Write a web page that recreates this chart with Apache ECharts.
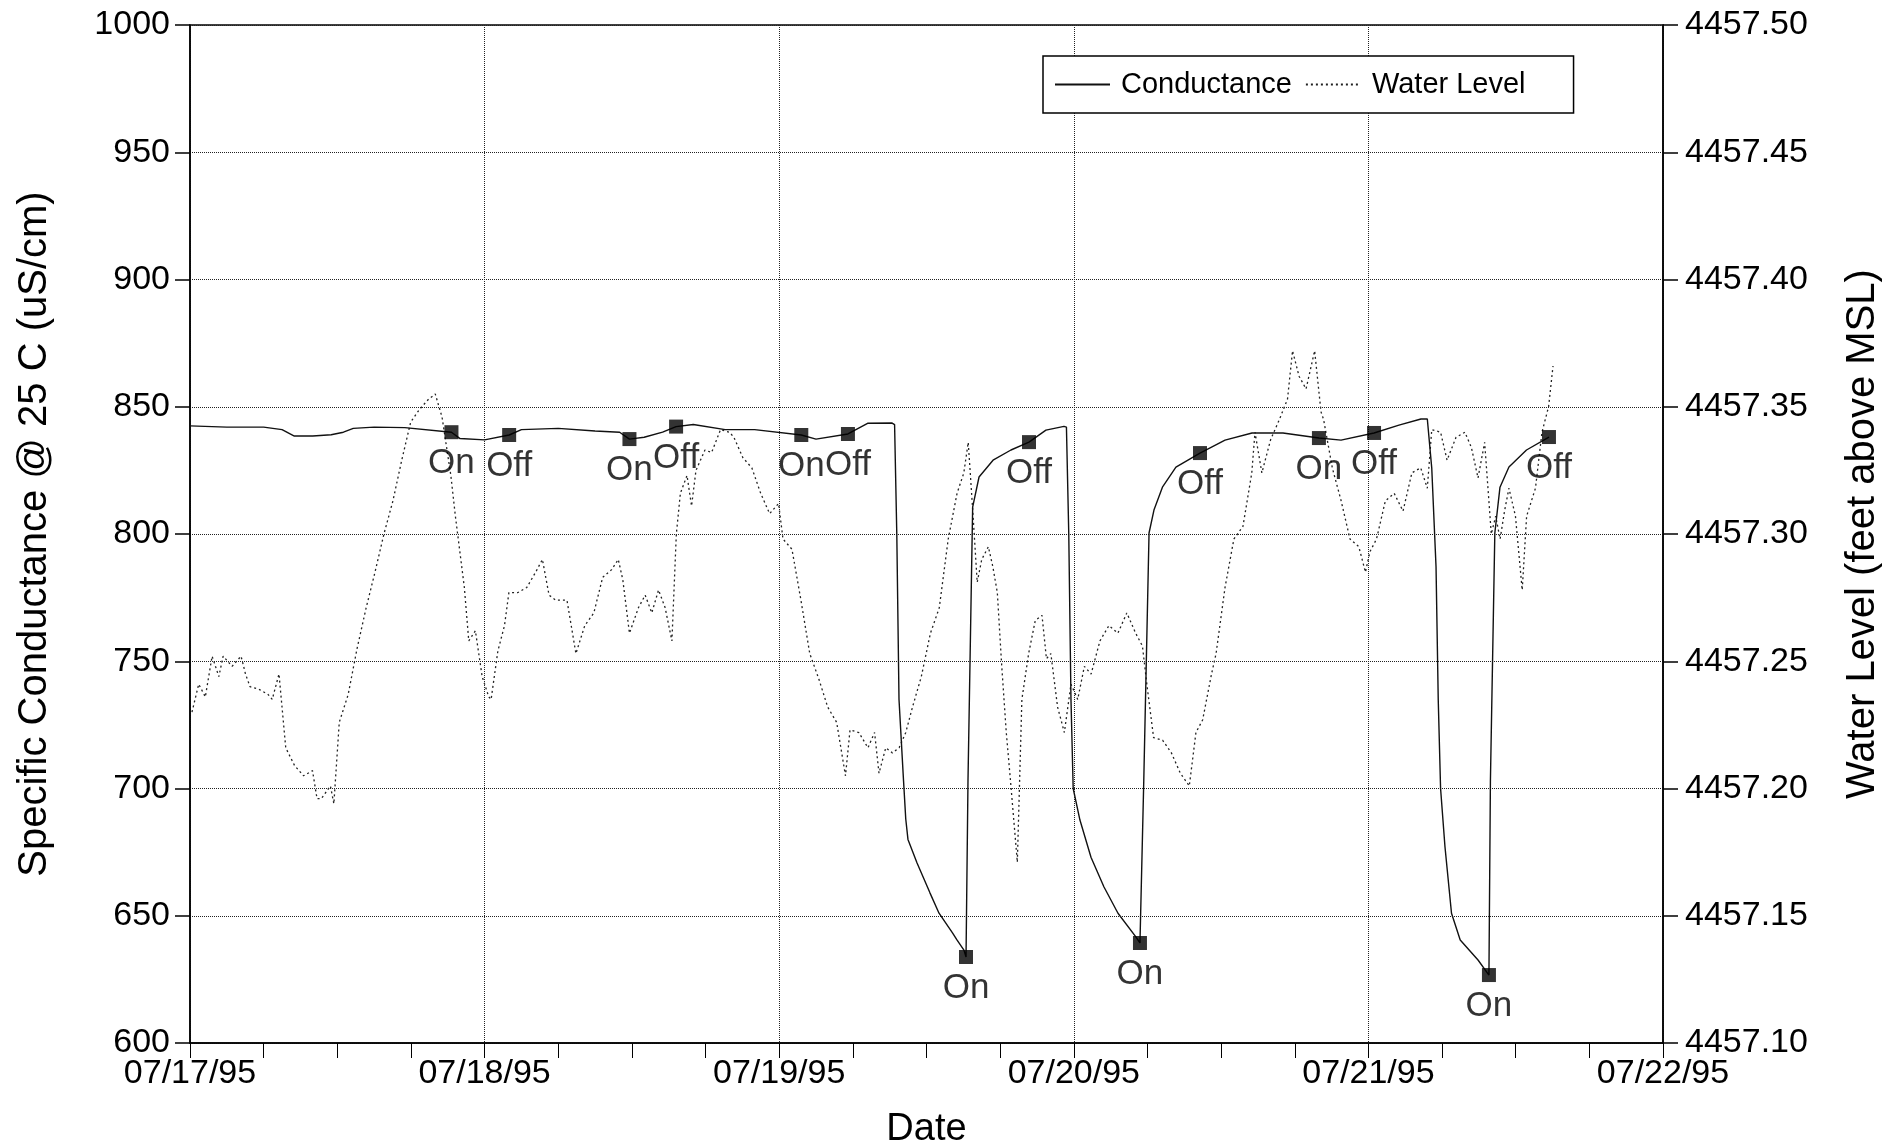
<!DOCTYPE html>
<html>
<head>
<meta charset="utf-8">
<title>Specific Conductance and Water Level</title>
<script src="https://cdn.jsdelivr.net/npm/echarts@6/dist/echarts.min.js"></script>
<style>
  html, body { margin: 0; padding: 0; background: #fff; }
  #main { width: 1889px; height: 1148px; }
</style>
</head>
<body>
<div id="main"></div>
<script>
// x values are hours after 07/17/95 00:00
var dateLabels = ['07/17/95', '07/18/95', '07/19/95', '07/20/95', '07/21/95', '07/22/95'];

var condHours = [0, 3, 6, 7.5, 8.5, 10, 11.5, 12.5, 13.3, 15, 17.5, 21.3, 22, 24, 26.0, 27, 30, 33, 35, 35.8,
  37, 38.5, 39.6, 41, 43.6, 46, 49.8, 51, 53.6, 55.2, 57.2, 57.4, 57.58, 57.76, 58.13, 58.31, 58.49, 59.23, 60.28, 61.02, 62.13, 62.48,
  63.05, 63.22, 63.38, 63.76, 64.28, 65.42, 66.88, 68.35, 69.73, 71.2, 71.4, 71.59, 71.77, 71.95, 72.5, 73.4, 74.46, 75.6, 77.07, 77.39,
  77.7, 78.13, 78.53, 79.22, 80.32, 82.28, 84.32, 86.52, 89.04, 91.97, 93.77, 96.46, 98.49, 100.28, 100.8, 101.16, 101.51, 101.69, 101.88, 102.24,
  102.77, 103.48, 104.93, 105.82, 105.94, 106.3, 106.72, 107.45, 108.88, 110.71];
var condValues = [842.5, 842, 842, 841, 838.5, 838.5, 839, 840, 841.5, 842, 841.8, 840, 837.5, 837, 838.9, 841, 841.5, 840.5, 840, 837.3,
  838, 840, 842.2, 843, 841, 841, 838.9, 837.3, 839.3, 843.5, 843.6, 843, 800, 735, 703, 688, 680, 670.7, 659, 651, 643.2, 640.5,
  636.5, 633.8, 703, 810.6, 822.4, 829, 833, 836.1, 840.8, 842.3, 842, 800, 735, 700, 687.6, 673, 661.3, 651, 641.6, 639.3,
  703, 800.4, 809.4, 818.4, 826.3, 831.8, 836.9, 839.7, 839.7, 837.7, 836.9, 839.7, 842.8, 845.2, 845.2, 826, 787, 734.8, 700, 677,
  651, 640.5, 632.6, 626.7, 703, 800.4, 818.4, 826.3, 833, 838.1];

var levelHours = [0.16, 0.71, 1.25, 1.80, 2.35, 2.70, 3.43, 4.16, 4.52, 4.89,
  5.61, 6.35, 6.70, 7.25, 7.80, 8.52, 9.25, 9.98, 10.35, 10.70,
  11.44, 11.72, 12.16, 12.89, 13.61, 14.35, 15.07, 15.80, 16.53, 17.25,
  17.98, 18.70, 19.44, 19.98, 20.53, 21.25, 21.62, 22.35, 22.71, 23.25,
  23.80, 24.34, 24.53, 25.08, 25.62, 25.98, 26.71, 27.44, 28.16, 28.71,
  29.25, 29.80, 30.71, 31.44, 32.16, 32.90, 33.62, 34.35, 34.89, 35.26,
  35.80, 36.53, 37.08, 37.62, 38.17, 38.71, 39.26, 39.62, 39.95, 40.49,
  40.86, 41.22, 41.95, 42.49, 43.22, 43.95, 44.31, 45.04, 45.77, 46.49,
  47.22, 47.95, 48.31, 49.04, 49.77, 50.49, 51.23, 51.95, 52.68, 53.40,
  53.77, 54.49, 55.23, 55.77, 56.13, 56.68, 57.22, 57.77, 58.31, 58.86,
  59.58, 60.32, 61.04, 61.77, 62.49, 63.04, 63.40, 63.77, 64.13, 64.50,
  65.04, 65.41, 65.77, 66.13, 66.50, 66.86, 67.40, 67.77, 68.32, 68.86,
  69.41, 69.77, 70.13, 70.68, 71.23, 71.77, 72.32, 72.86, 73.41, 74.13,
  74.86, 75.59, 76.32, 77.04, 77.59, 77.95, 78.50, 79.23, 79.95, 80.68,
  81.41, 81.95, 82.50, 83.22, 83.59, 84.32, 85.04, 85.78, 86.50, 86.76,
  87.32, 88.03, 88.75, 89.41, 89.82, 90.35, 90.92, 91.62, 92.14, 92.35,
  93.06, 93.78, 94.50, 95.22, 95.76, 96.12, 96.66, 97.38, 98.10, 98.82,
  99.54, 100.26, 100.80, 101.16, 101.88, 102.41, 103.14, 103.86, 104.39, 104.93,
  105.47, 106.01, 106.37, 106.73, 107.09, 107.45, 107.98, 108.53, 108.89, 109.61,
  110.14, 110.68, 111.04];
var levelValues = [4457.230, 4457.241, 4457.236, 4457.252, 4457.244, 4457.252, 4457.248, 4457.252, 4457.245, 4457.240,
  4457.239, 4457.237, 4457.235, 4457.245, 4457.216, 4457.209, 4457.205, 4457.207, 4457.196, 4457.196,
  4457.201, 4457.194, 4457.226, 4457.237, 4457.255, 4457.271, 4457.285, 4457.300, 4457.313, 4457.329,
  4457.344, 4457.349, 4457.353, 4457.355, 4457.346, 4457.323, 4457.307, 4457.279, 4457.258, 4457.262,
  4457.244, 4457.236, 4457.235, 4457.254, 4457.264, 4457.277, 4457.277, 4457.279, 4457.285, 4457.290,
  4457.276, 4457.274, 4457.274, 4457.253, 4457.264, 4457.269, 4457.283, 4457.286, 4457.290, 4457.282,
  4457.261, 4457.271, 4457.276, 4457.269, 4457.278, 4457.271, 4457.258, 4457.300, 4457.316, 4457.323,
  4457.311, 4457.325, 4457.333, 4457.332, 4457.341, 4457.340, 4457.338, 4457.330, 4457.326, 4457.316,
  4457.308, 4457.312, 4457.298, 4457.294, 4457.274, 4457.253, 4457.243, 4457.232, 4457.226, 4457.205,
  4457.223, 4457.222, 4457.216, 4457.222, 4457.206, 4457.216, 4457.214, 4457.216, 4457.222, 4457.232,
  4457.244, 4457.261, 4457.271, 4457.298, 4457.316, 4457.324, 4457.336, 4457.309, 4457.281, 4457.290,
  4457.295, 4457.287, 4457.277, 4457.248, 4457.222, 4457.202, 4457.171, 4457.235, 4457.253, 4457.266,
  4457.268, 4457.251, 4457.253, 4457.232, 4457.222, 4457.241, 4457.235, 4457.248, 4457.245, 4457.258,
  4457.264, 4457.261, 4457.269, 4457.261, 4457.256, 4457.241, 4457.220, 4457.219, 4457.214, 4457.206,
  4457.201, 4457.222, 4457.227, 4457.245, 4457.253, 4457.279, 4457.298, 4457.303, 4457.324, 4457.340,
  4457.324, 4457.337, 4457.345, 4457.353, 4457.372, 4457.362, 4457.357, 4457.372, 4457.348, 4457.345,
  4457.326, 4457.313, 4457.298, 4457.295, 4457.285, 4457.293, 4457.298, 4457.313, 4457.316, 4457.309,
  4457.324, 4457.326, 4457.318, 4457.341, 4457.340, 4457.329, 4457.338, 4457.340, 4457.334, 4457.322,
  4457.336, 4457.300, 4457.307, 4457.298, 4457.309, 4457.318, 4457.307, 4457.278, 4457.307, 4457.318,
  4457.340, 4457.350, 4457.366];

// pump switching points on the conductance curve
var pumpHours = [21.3, 26.0, 35.8, 39.6, 49.8, 53.6, 63.22, 68.35, 77.39, 82.28, 91.97, 96.46, 105.82, 110.71];
var pumpValues = [840, 838.9, 837.3, 842.2, 838.9, 839.3, 633.8, 836.1, 639.3, 831.8, 837.7, 839.7, 626.7, 838.1];
var pumpLabels = ['On', 'Off', 'On', 'Off', 'On', 'Off', 'On', 'Off', 'On', 'Off', 'On', 'Off', 'On', 'Off'];

function zip(xs, ys) {
  var out = [];
  for (var i = 0; i < xs.length; i++) out.push([xs[i], ys[i]]);
  return out;
}

var font = '"Liberation Sans", Arial, Helvetica, sans-serif';
var black = '#000';
var gridDots = { type: 'dotted', color: '#222', width: 1 };

var myChart = echarts.init(document.getElementById('main'));
var option = {
  animation: false,
  backgroundColor: '#fff',
  textStyle: { fontFamily: font, color: black },
  grid: {
    left: 190,
    right: 226,
    top: 25,
    bottom: 105,
    containLabel: false,
    outerBoundsMode: 'none',
    show: true,
    borderColor: black,
    borderWidth: 1.5
  },
  legend: {
    data: ['Conductance', 'Water Level'],
    left: 1043,
    top: 56,
    padding: [14, 48, 14, 11],
    itemWidth: 55,
    itemHeight: 14,
    itemGap: 13,
    borderColor: black,
    borderWidth: 1.5,
    backgroundColor: '#fff',
    // hide the symbol in the legend sample, keep the line
    itemStyle: { opacity: 0 },
    textStyle: { fontSize: 29, color: black, fontFamily: font, padding: [0, 0, 0, 6] }
  },
  xAxis: {
    type: 'value',
    min: 0,
    max: 120,
    interval: 24,
    name: 'Date',
    nameLocation: 'middle',
    nameGap: 68,
    nameTextStyle: { fontSize: 38, color: black, fontFamily: font },
    axisLine: { show: true, lineStyle: { color: black, width: 1.5 } },
    axisTick: { show: true, inside: false, length: 15, lineStyle: { color: black, width: 1 } },
    minorTick: { show: true, splitNumber: 4, length: 15, lineStyle: { color: black, width: 1 } },
    axisLabel: {
      fontSize: 34,
      color: black,
      margin: 14,
      formatter: function (v) { return dateLabels[Math.round(v / 24)]; }
    },
    splitLine: { show: true, lineStyle: gridDots }
  },
  yAxis: [
    {
      type: 'value',
      position: 'left',
      min: 600,
      max: 1000,
      interval: 50,
      name: 'Specific Conductance @ 25 C (uS/cm)',
      nameLocation: 'middle',
      nameRotate: 90,
      nameGap: 135,
      nameTextStyle: { fontSize: 40, color: black, fontFamily: font },
      axisLine: { show: true, lineStyle: { color: black, width: 1.5 } },
      axisTick: { show: true, inside: false, length: 15, lineStyle: { color: black, width: 1.5 } },
      axisLabel: {
        fontSize: 34,
        color: black,
        margin: 20,
        formatter: function (v) { return String(v); }
      },
      splitLine: { show: true, lineStyle: gridDots }
    },
    {
      type: 'value',
      position: 'right',
      min: 4457.10,
      max: 4457.50,
      interval: 0.05,
      name: 'Water Level (feet above MSL)',
      nameLocation: 'middle',
      nameRotate: 90,
      nameGap: 180,
      nameTextStyle: { fontSize: 40, color: black, fontFamily: font },
      axisLine: { show: true, lineStyle: { color: black, width: 1.5 } },
      axisTick: { show: true, inside: false, length: 15, lineStyle: { color: black, width: 1.5 } },
      axisLabel: {
        fontSize: 34,
        color: black,
        margin: 22,
        formatter: function (v) { return v.toFixed(2); }
      },
      splitLine: { show: false }
    }
  ],
  series: [
    {
      name: 'Conductance',
      type: 'line',
      yAxisIndex: 0,
      data: zip(condHours, condValues),
      symbol: 'none',
      color: '#111',
      lineStyle: { color: '#111', width: 1.4, type: 'solid' },
      z: 3
    },
    {
      name: 'Water Level',
      type: 'line',
      yAxisIndex: 1,
      data: zip(levelHours, levelValues),
      symbol: 'none',
      color: '#222',
      lineStyle: { color: '#222', width: 1.3, type: [2, 3] },
      z: 2
    },
    {
      name: 'Pump',
      type: 'scatter',
      yAxisIndex: 0,
      data: zip(pumpHours, pumpValues),
      symbol: 'rect',
      symbolSize: 14,
      itemStyle: { color: black },
      label: {
        show: true,
        position: 'bottom',
        distance: 7,
        fontSize: 35,
        color: black,
        fontFamily: font,
        formatter: function (p) { return pumpLabels[p.dataIndex]; }
      },
      z: 4
    }
  ]
};
myChart.setOption(option);
</script>
</body>
</html>
